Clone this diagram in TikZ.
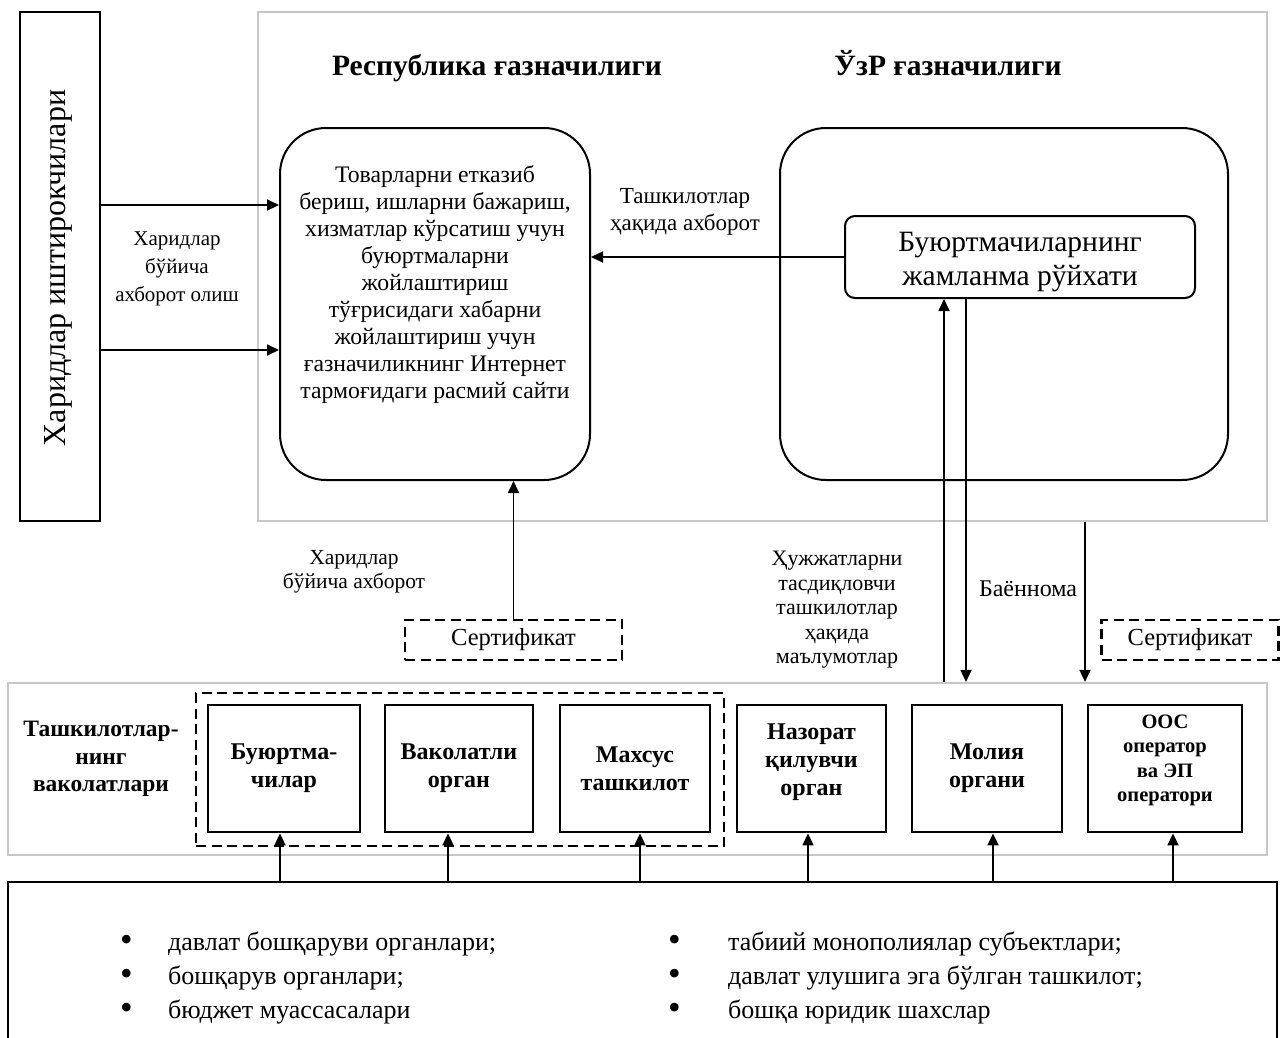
\documentclass[tikz,border=0pt]{standalone}
\usepackage{fontspec}
\setmainfont{Liberation Serif}
\usetikzlibrary{arrows.meta,positioning}
\newcommand{\blt}[1]{\makebox[#1][l]{\fontsize{36}{34}\selectfont\raisebox{-1pt}{•}}}
\tikzset{
  ar/.style={-{Triangle[length=12pt,width=11pt]},line width=1.8pt},
  graybox/.style={draw=black!22,line width=2.2pt,inner sep=0pt},
  roundbox/.style={draw,line width=2pt,rounded corners=46pt,inner sep=0pt},
  orgbox/.style={draw,line width=2.8pt,minimum width=150pt,minimum height=127pt,inner sep=2pt,
    align=center,font=\fontsize{24}{28}\selectfont\bfseries},
  dashbox/.style={draw,line width=2.2pt,dash pattern=on 10pt off 5.5pt,inner sep=0pt},
  lbl/.style={align=center,inner sep=0pt},
  ttl/.style={anchor=base,font=\fontsize{29.5}{34}\selectfont\bfseries}
}
\begin{document}
\begin{tikzpicture}[x=1pt,y=-1pt]
\useasboundingbox (0,0) rectangle (1285,1037);
% top part
\node[graybox,minimum width=1009pt,minimum height=509pt] (treas) at (762.5,266.5) {};
\node[draw,line width=2.6pt,minimum width=80pt,minimum height=509pt,inner sep=0pt] (buyers) at (60,266.5) {};
\node[rotate=90,font=\fontsize{32}{36}\selectfont] (buyerstxt) at (58,268) {Харидлар иштирокчилари};
\node[ttl] (rep) at (497,75) {Республика ғазначилиги};
\node[ttl] (uzr) at (948,75) {ЎзР ғазначилиги};
\node[roundbox,minimum width=310pt,minimum height=352pt] (site) at (435,304) {};
\node[lbl,font=\fontsize{23.7}{27}\selectfont,anchor=north] (sitetxt) at (435,165)
  {Товарларни етказиб\\бериш, ишларни бажариш,\\хизматлар кўрсатиш учун\\буюртмаларни\\жойлаштириш\\тўғрисидаги хабарни\\жойлаштириш учун\\ғазначиликнинг Интернет\\тармоғидаги расмий сайти};
\node[roundbox,minimum width=448pt,minimum height=352pt] (uzbox) at (1004,304) {};
\node[draw,line width=2pt,rounded corners=10pt,minimum width=350pt,minimum height=82pt] (jam) at (1020,257) {};
\node[lbl,font=\fontsize{29.5}{34}\selectfont] (jamtxt) at ([yshift=-5pt]jam.center) {Буюртмачиларнинг\\жамланма рўйхати};
\coordinate (y1) at (0,205);
\coordinate (y2) at (0,350);
\draw[ar] (buyers.east |- y1) -- (site.west |- y1);
\draw[ar] (buyers.east |- y2) -- (site.west |- y2);
\node[lbl,font=\fontsize{21}{28}\selectfont] (getinfo) at (177,269) {Харидлар\\бўйича\\ахборот олиш};
\draw[ar] (jam.west) -- (jam.west -| site.east);
\node[lbl,font=\fontsize{23}{27.5}\selectfont] (orginfo) at (685,212) {Ташкилотлар\\ҳақида ахборот};
% middle
\node[dashbox,minimum width=217pt,minimum height=40pt,font=\fontsize{24.5}{28}\selectfont] (cert1) at (513.5,640) {Сертификат};
\node[dashbox,minimum width=177pt,minimum height=40pt,font=\fontsize{24.5}{28}\selectfont] (cert2) at (1190,640) {Сертификат};
\draw[ar] (cert1.north) -- (cert1.north |- site.south);
\node[lbl,font=\fontsize{21.5}{23.5}\selectfont] (purinfo) at (354,572) {Харидлар\\бўйича ахборот};
\node[graybox,minimum width=1259pt,minimum height=172pt] (auth) at (637.5,769) {};
\coordinate (up) at (944,0);
\coordinate (dn) at (966,0);
\coordinate (pr) at (1085,0);
\draw[ar] (auth.north -| up) -- (jam.south -| up);
\draw[ar] (jam.south -| dn) -- (auth.north -| dn);
\draw[ar] (treas.south -| pr) -- (auth.north -| pr);
\node[lbl,font=\fontsize{22}{24.5}\selectfont] (docinfo) at (837,610) {Ҳужжатларни\\тасдиқловчи\\ташкилотлар\\ҳақида\\маълумотлар};
\node[lbl,font=\fontsize{24}{28}\selectfont] (protocol) at (1028,589) {Баённома};
% organisations
\node[lbl,font=\fontsize{23.5}{27.5}\selectfont\bfseries] (powers) at (101,759) {Ташкилотлар-\\нинг\\ваколатлари};
\node[dashbox,minimum width=528pt,minimum height=153pt] (cust) at (460,769.5) {};
\node[orgbox,minimum width=152pt] (bA) at (284,768.5) {Буюртма-\\чилар};
\node[orgbox,minimum width=148pt] (bB) at (459,768.5) {Ваколатли\\орган};
\node[orgbox] (bC) at (635,768.5) {Махсус\\ташкилот};
\node[orgbox,minimum width=149pt,text depth=17pt] (bD) at (811.5,768.5) {Назорат\\қилувчи\\орган};
\node[orgbox,minimum width=154pt,text depth=21pt,font=\fontsize{20.5}{24.5}\selectfont\bfseries] (bF) at (1165,768.5) {ООС\\оператор\\ва ЭП\\оператори};
\node[orgbox] (bE) at (987,768.5) {Молия\\органи};
% bottom
\node[draw,line width=2.6pt,minimum width=1269pt,minimum height=163pt,inner sep=0pt] (list) at (642.5,963.5) {};
\foreach \b/\x in {bA/280,bB/448,bC/640,bD/808,bE/993,bF/1173}
  \draw[ar] (list.north -| \x,0) -- (\b.south -| \x,0);
\node[anchor=north west,align=left,inner sep=0pt,font=\fontsize{26}{34}\selectfont] (listL) at (120,932)
  {\blt{48pt}давлат бошқаруви органлари;\\\blt{48pt}бошқарув органлари;\\\blt{48pt}бюджет муассасалари};
\node[anchor=north west,align=left,inner sep=0pt,font=\fontsize{26}{34}\selectfont] (listR) at (668,932)
  {\blt{60pt}табиий монополиялар субъектлари;\\\blt{60pt}давлат улушига эга бўлган ташкилот;\\\blt{60pt}бошқа юридик шахслар};
\end{tikzpicture}
\end{document}
